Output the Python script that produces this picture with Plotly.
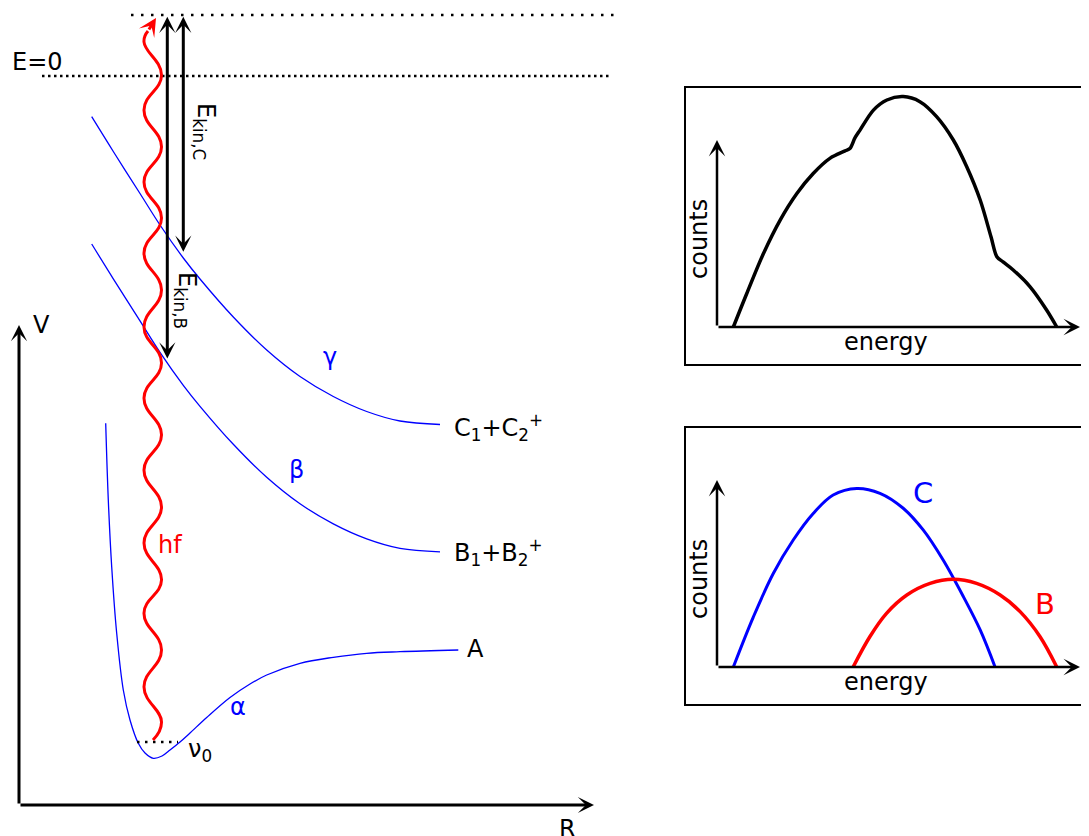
import plotly.graph_objects as go

W, H = 1089, 836          # target canvas
OFF = 8                   # page body margin of the browser
FW, FH = W - OFF, H - OFF  # figure size so the canvas fits the window
FONT = "DejaVu Sans"
BLUE = "#0000ff"
RED = "#ff0000"

# ---------------- main potential-energy diagram (canvas units, V grows downward) ----------------
gamma_R = [91.7, 113.3, 140, 160, 183.3, 200, 233.3, 266.7, 300, 333.3, 366.7, 400, 440]
gamma_V = [116.7, 151.5, 193.5, 225, 258, 279, 317, 350, 376.5, 396.5, 411.5, 421, 424.5]

beta_R = [91.7, 113.3, 140, 160, 183.3, 200, 233.3, 266.7, 300, 333.3, 366.7, 400, 440]
beta_V = [244, 278.8, 320.8, 352.3, 385.3, 406.3, 444.3, 477.3, 503.8, 523.8, 538.8, 548.3, 551.8]

alpha_R = [105.7, 108.3, 111.7, 116.7, 123.3, 130, 138.3, 145, 153.3, 162, 170, 180, 190,
           206.7, 230, 250, 266.7, 300, 333.3, 366.7, 400, 458.3]
alpha_V = [423.3, 500, 566.7, 633.3, 690, 720, 743.3, 753, 758.3, 756, 750, 742, 733,
           717.5, 697.5, 684, 675, 663.3, 657.3, 653.3, 651.7, 650]

photon_R = [153, 161.5, 144, 161.5, 144, 161.5, 144, 161.5, 144, 161.5, 144, 161.5, 144,
            161.5, 144, 161.5, 144, 161.5, 144, 161.5, 144, 148]
photon_V = [740, 722, 687, 650, 613, 580, 543, 507, 470, 435, 398, 363, 327,
            290, 253, 218, 182, 147, 110, 75, 42, 31]

level_top_R = [131, 615]
level_top_V = [15, 15]
level_E0_R = [42, 612]
level_E0_V = [76, 76]
nu0_R = [137, 178]
nu0_V = [742, 742]

axis_origin = (19, 805)
axis_V_tip = 325
axis_R_tip = 594

ekinB_R, ekinB_top, ekinB_bot = 167.3, 16.7, 360
ekinC_R, ekinC_top, ekinC_bot = 183.3, 16.7, 253.3

# ---------------- spectra (arbitrary units: energy 0..10, counts 0..10 at arrow tips) ----------------
total_energy = [0.45, 0.82, 1.28, 1.74, 2.20, 2.65, 3.11, 3.53, 3.66, 3.80, 3.94, 4.31, 4.68, 5.13,
                5.59, 6.05, 6.51, 6.88, 7.25, 7.55, 7.71, 7.88, 8.16, 8.62, 9.08, 9.36]
total_counts = [0.0, 1.79, 3.93, 5.72, 7.14, 8.21, 9.02, 9.42, 9.54, 10.11, 10.53, 11.60, 12.14, 12.32,
                12.05, 11.25, 10.00, 8.57, 6.79, 4.81, 3.76, 3.48, 3.05, 2.16, 0.91, 0.0]

C_energy = [0.45, 1.00, 1.55, 2.10, 2.65, 3.20, 3.85, 4.49, 5.13, 5.68, 6.23, 6.79, 7.25, 7.66]
C_counts = [0.0, 2.67, 5.00, 6.79, 8.21, 9.20, 9.55, 9.29, 8.49, 7.33, 5.72, 3.75, 1.98, 0.0]

B_energy = [3.75, 4.21, 4.67, 5.23, 5.87, 6.51, 7.15, 7.80, 8.35, 8.90, 9.36]
B_counts = [0.0, 1.62, 2.87, 3.85, 4.47, 4.69, 4.47, 3.85, 2.96, 1.62, 0.0]

# panel geometry (pixels)
PX_L, PX_R = 686, 1086
PX_ORIGIN_X = 717
PX_PER_E = 36.3
PX_PER_C = 18.7
panels = [  # (top px, bottom px, baseline px)
    (88, 364, 327),
    (428, 704, 667),
]


def paper_x(px):
    return (px - OFF) / FW


def paper_y(py):
    return 1 - (py - OFF) / FH


def e_of(px):
    return (px - PX_ORIGIN_X) / PX_PER_E


def c_of(py, base):
    return (base - py) / PX_PER_C


fig = go.Figure()

# main diagram traces
blue_line = dict(color=BLUE, width=1.3, shape="spline", smoothing=1)
fig.add_trace(go.Scatter(x=gamma_R, y=gamma_V, mode="lines", line=blue_line))
fig.add_trace(go.Scatter(x=beta_R, y=beta_V, mode="lines", line=blue_line))
fig.add_trace(go.Scatter(x=alpha_R, y=alpha_V, mode="lines", line=blue_line))
fig.add_trace(go.Scatter(x=level_top_R, y=level_top_V, mode="lines",
                         line=dict(color="black", width=2.5, dash="2.5px,7.5px")))
fig.add_trace(go.Scatter(x=level_E0_R, y=level_E0_V, mode="lines",
                         line=dict(color="black", width=2.5, dash="2.5px,3.5px")))
fig.add_trace(go.Scatter(x=nu0_R, y=nu0_V, mode="lines",
                         line=dict(color="black", width=2.5, dash="2.5px,5.5px")))
fig.add_trace(go.Scatter(x=photon_R, y=photon_V, mode="lines",
                         line=dict(color=RED, width=3, shape="spline", smoothing=1.3)))

# spectra
fig.add_trace(go.Scatter(x=total_energy, y=total_counts, mode="lines", xaxis="x2", yaxis="y2",
                         line=dict(color="black", width=3.5, shape="spline", smoothing=0.9)))
fig.add_trace(go.Scatter(x=C_energy, y=C_counts, mode="lines", xaxis="x3", yaxis="y3",
                         line=dict(color=BLUE, width=3, shape="spline", smoothing=1)))
fig.add_trace(go.Scatter(x=B_energy, y=B_counts, mode="lines", xaxis="x3", yaxis="y3",
                         line=dict(color=RED, width=3.5, shape="spline", smoothing=1)))

annotations = []


def arrow(x, y, ax, ay, xref="x", yref="y", color="black", width=3, size=0.9, both=False):
    d = dict(x=x, y=y, ax=ax, ay=ay, xref=xref, yref=yref, axref=xref, ayref=yref,
             text="", showarrow=True, arrowhead=3, arrowsize=size, arrowwidth=width,
             arrowcolor=color, standoff=0, startstandoff=0)
    if both:
        d.update(arrowside="end+start", startarrowhead=3, startarrowsize=size)
    annotations.append(d)


def label(x, y, text, color="black", size=24, angle=0, xanchor="center", yanchor="middle",
          xref="x", yref="y"):
    annotations.append(dict(x=x, y=y, xref=xref, yref=yref, text=text, showarrow=False,
                            textangle=angle, xanchor=xanchor, yanchor=yanchor,
                            font=dict(family=FONT, size=size, color=color)))


# main axes arrows
ox, oy = axis_origin
arrow(ox, axis_V_tip, ox, oy)
arrow(axis_R_tip, oy, ox, oy)
# kinetic energy double arrows
arrow(ekinB_R, ekinB_top, ekinB_R, ekinB_bot, both=True)
arrow(ekinC_R, ekinC_top, ekinC_R, ekinC_bot, both=True)
# photon head
arrow(156, 18, photon_R[-1], photon_V[-1], color=RED, width=3, size=1.0)

# main labels
label(37, 62, "E=0")
label(41.5, 325, "V")
label(567, 829, "R")
label(205, 131, "E<sub>kin,C</sub>", angle=90)
label(186, 300, "E<sub>kin,B</sub>", angle=90)
label(330, 357, "γ", color=BLUE)
label(296, 470, "β", color=BLUE)
label(238, 707, "α", color=BLUE)
label(170, 545, "hf", color=RED)
label(452, 427, "C<sub>1</sub>+C<sub>2</sub><sup>+</sup>", xanchor="left")
label(452, 552, "B<sub>1</sub>+B<sub>2</sub><sup>+</sup>", xanchor="left")
label(475, 649, "A")
label(186, 750, "ν<sub>0</sub>", xanchor="left")

# spectra panels: axes arrows and labels
for i, (ptop, pbot, pbase) in enumerate(panels):
    xr, yr = f"x{i + 2}", f"y{i + 2}"
    arrow(10, 0, 0, 0, xref=xr, yref=yr, width=2.5, size=1.1)
    arrow(0, 10, 0, 0, xref=xr, yref=yr, width=2.5, size=1.1)
    label(paper_x(699), paper_y(pbase - 88), "counts", angle=-90, size=24,
          xref="paper", yref="paper")
    label(paper_x(885.5), paper_y(pbase + 14.7), "energy", size=24,
          xref="paper", yref="paper")

base_low = panels[1][2]
label(e_of(922.5), c_of(493.3, base_low), "C", color=BLUE, size=29, xref="x3", yref="y3")
label(e_of(1045), c_of(604, base_low), "B", color=RED, size=29, xref="x3", yref="y3")

hidden = dict(visible=False, showgrid=False, zeroline=False, fixedrange=True)
boxaxis = dict(showgrid=False, zeroline=False, showticklabels=False, ticks="",
               showline=True, mirror=True, linecolor="black", linewidth=2, fixedrange=True)

layout = dict(
    width=FW, height=FH,
    margin=dict(l=0, r=0, t=0, b=0),
    paper_bgcolor="white", plot_bgcolor="rgba(0,0,0,0)",
    showlegend=False,
    xaxis=dict(hidden, domain=[0, 1], range=[OFF, W]),
    yaxis=dict(hidden, domain=[0, 1], range=[H, OFF]),
    annotations=annotations,
)
for i, (ptop, pbot, pbase) in enumerate(panels):
    n = i + 2
    layout[f"xaxis{n}"] = dict(boxaxis, domain=[paper_x(PX_L), paper_x(PX_R)],
                               range=[e_of(PX_L), e_of(PX_R)], anchor=f"y{n}")
    layout[f"yaxis{n}"] = dict(boxaxis, domain=[paper_y(pbot), paper_y(ptop)],
                               range=[c_of(pbot, pbase), c_of(ptop, pbase)], anchor=f"x{n}")

fig.update_layout(**layout)
fig.write_html("out.html")
